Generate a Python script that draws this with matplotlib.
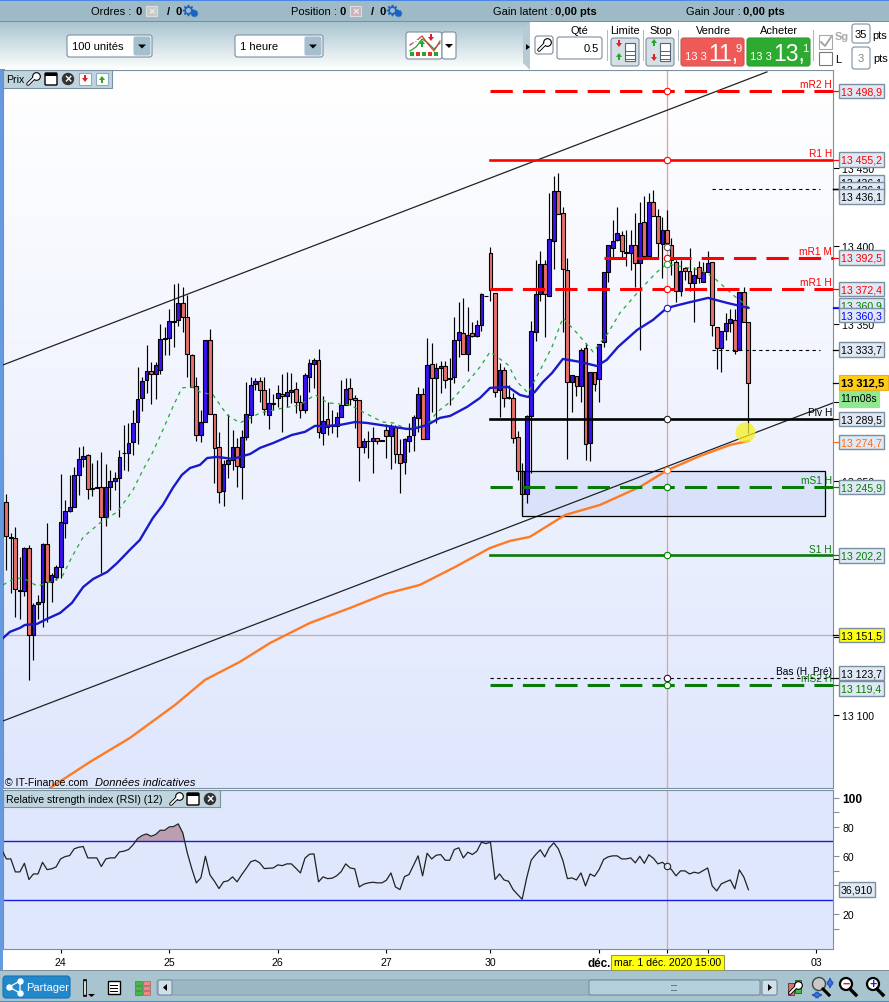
#!/usr/bin/env python3
# Hourly candles with moving averages, pivot levels and RSI, in a trading platform window
import numpy as np
import matplotlib
matplotlib.use("Agg")
import matplotlib.pyplot as plt
from matplotlib.patches import Rectangle, FancyBboxPatch, Circle, Polygon

plt.rcParams['font.family'] = ['Liberation Sans', 'DejaVu Sans']

# ---- candles, one value per hourly bar
body_top = [
13236.2,13214.0,13213.2,13180.4,13206.8,13206.8,13170.4,13172.3,13209.3,13209.3,
13189.5,13194.6,13223.4,13230.4,13233.0,13253.6,13263.7,13266.0,13266.2,13245.1,
13245.8,13245.8,13246.2,13250.0,13251.5,13265.4,13267.9,13274.3,13287.1,13302.1,
13314.0,13320.4,13320.4,13323.8,13340.4,13341.0,13352.3,13352.3,13363.4,13363.4,
13354.9,13330.2,13310.8,13287.4,13339.8,13339.8,13292.5,13271.4,13260.5,13263.3,
13271.8,13271.4,13277.6,13292.5,13311.0,13313.6,13313.6,13307.8,13299.5,13299.7,
13305.9,13305.3,13306.5,13307.8,13308.4,13300.6,13317.4,13325.1,13327.0,13327.0,
13288.4,13289.3,13285.7,13290.6,13298.2,13308.4,13309.1,13302.7,13301.4,13275.2,
13275.6,13277.1,13277.1,13275.8,13282.2,13285.2,13284.6,13266.9,13276.5,13278.4,
13290.6,13305.3,13305.3,13324.2,13324.8,13321.9,13323.6,13323.6,13315.5,13339.8,
13344.9,13344.2,13343.4,13344.2,13349.6,13369.1,13368.3,13395.4,13369.8,13320.6,
13320.6,13303.3,13302.7,13277.8,13256.3,13291.6,13345.5,13369.2,13388.3,13388.3,
13404.3,13435.4,13435.0,13420.9,13384.7,13317.4,13317.0,13333.4,13334.6,13319.3,
13319.3,13337.2,13383.2,13400.5,13403.0,13408.1,13406.9,13396.0,13400.9,13400.9,
13414.5,13415.2,13427.9,13427.9,13419.0,13410.0,13410.0,13400.5,13390.0,13384.3,
13385.8,13384.3,13381.7,13386.8,13383.6,13389.0,13389.6,13348.5,13345.9,13350.6,
13353.2,13352.5,13370.4,13370.4,13351.3]
body_bottom = [
13214.5,13213.6,13180.6,13179.3,13179.3,13151.2,13151.2,13171.0,13172.3,13185.1,
13185.1,13188.7,13195.1,13222.8,13230.4,13233.0,13253.4,13263.9,13244.5,13244.7,
13245.3,13227.0,13227.0,13246.2,13250.0,13251.5,13267.5,13267.9,13274.6,13287.4,
13302.7,13314.2,13318.2,13318.2,13320.6,13340.6,13341.4,13351.3,13352.7,13354.4,
13330.8,13310.1,13279.0,13279.0,13287.4,13292.5,13270.7,13242.6,13243.1,13260.5,
13263.3,13259.2,13259.0,13277.8,13291.8,13311.6,13307.8,13295.7,13291.8,13299.3,
13302.7,13303.8,13303.8,13306.7,13300.6,13295.0,13295.0,13316.1,13324.8,13281.0,
13280.3,13284.2,13285.0,13285.2,13291.0,13298.2,13302.1,13301.4,13271.4,13271.4,
13275.2,13275.2,13275.2,13275.4,13278.4,13278.8,13266.9,13261.2,13261.8,13275.6,
13279.0,13289.9,13276.5,13276.5,13315.5,13315.9,13321.9,13314.2,13315.0,13316.1,
13339.8,13330.8,13330.8,13342.3,13342.3,13349.3,13367.9,13371.7,13306.9,13308.0,
13303.1,13302.9,13277.1,13256.5,13241.4,13241.4,13291.6,13344.9,13369.2,13369.4,
13368.1,13403.4,13420.3,13385.1,13312.9,13312.9,13310.2,13310.2,13273.3,13274.4,
13311.6,13314.8,13338.5,13383.2,13399.0,13403.7,13396.6,13395.6,13395.4,13389.0,
13389.0,13393.6,13393.6,13419.4,13401.7,13401.3,13401.7,13391.1,13371.1,13371.1,
13384.3,13376.6,13376.6,13379.2,13377.2,13383.4,13349.3,13334.6,13334.6,13345.9,
13351.0,13332.7,13333.4,13351.3,13312.3]
wick_high = [
13241.3,13216.4,13220.2,13201.5,13207.9,13208.7,13172.1,13177.0,13210.0,13222.8,
13190.8,13196.1,13254.1,13237.7,13253.6,13259.0,13271.7,13272.2,13267.1,13261.5,
13263.2,13268.1,13260.5,13256.8,13255.8,13269.6,13285.6,13286.7,13295.2,13322.5,
13316.5,13336.8,13325.7,13326.1,13350.0,13348.5,13359.6,13375.8,13376.2,13373.6,
13368.7,13330.8,13316.5,13295.2,13339.8,13346.8,13292.5,13281.0,13263.3,13292.7,
13282.5,13277.1,13282.5,13312.9,13316.5,13315.5,13316.1,13316.1,13309.5,13305.5,
13311.2,13318.2,13319.3,13318.7,13313.3,13304.8,13318.7,13327.6,13328.3,13334.0,
13304.2,13300.6,13295.2,13294.2,13314.4,13315.5,13315.5,13304.8,13301.4,13277.1,
13281.8,13284.2,13277.1,13275.8,13286.3,13286.3,13285.6,13276.5,13277.1,13287.1,
13292.0,13309.7,13309.1,13341.0,13337.8,13325.1,13326.5,13326.5,13328.3,13354.9,
13364.0,13366.6,13361.3,13351.7,13352.7,13369.8,13368.3,13399.2,13369.8,13325.1,
13322.9,13311.2,13305.9,13281.8,13261.2,13292.0,13352.1,13391.1,13396.8,13391.1,
13434.1,13444.8,13446.5,13424.7,13392.2,13317.4,13317.0,13334.6,13338.3,13319.3,
13319.3,13337.2,13383.2,13400.5,13416.7,13424.7,13409.8,13410.3,13410.3,13421.3,
13427.9,13431.6,13434.1,13435.8,13423.5,13418.8,13423.0,13404.9,13391.1,13391.1,
13386.8,13398.5,13386.8,13390.7,13390.0,13396.8,13389.6,13348.5,13345.9,13357.0,
13359.6,13359.6,13370.4,13373.6,13351.3]
wick_low = [
13192.9,13178.5,13163.1,13161.4,13176.5,13122.6,13135.4,13161.4,13156.7,13159.9,
13172.3,13186.6,13187.6,13213.6,13230.2,13233.0,13240.9,13259.0,13238.3,13240.4,
13245.1,13190.8,13221.3,13231.3,13244.1,13227.0,13256.8,13256.2,13266.5,13273.5,
13294.6,13306.3,13299.1,13302.1,13318.2,13330.4,13330.4,13335.3,13349.1,13344.7,
13316.5,13309.7,13275.6,13275.0,13287.4,13292.5,13248.4,13235.6,13234.1,13251.6,
13256.9,13246.2,13238.4,13276.1,13287.1,13308.0,13300.6,13292.0,13283.3,13295.2,
13296.9,13281.4,13297.4,13299.9,13293.1,13289.9,13293.1,13306.9,13309.1,13277.1,
13272.9,13279.3,13280.3,13278.2,13291.0,13298.4,13298.4,13283.5,13250.1,13268.0,
13264.8,13255.2,13273.5,13275.4,13264.8,13257.3,13261.2,13242.4,13254.3,13268.6,
13269.0,13280.8,13276.5,13276.5,13294.2,13286.7,13306.3,13309.1,13298.4,13312.3,
13329.3,13330.8,13320.4,13342.1,13342.1,13345.9,13367.9,13365.1,13303.3,13291.0,
13296.9,13302.5,13274.4,13250.5,13228.1,13235.6,13254.8,13339.5,13365.1,13341.5,
13367.7,13385.1,13420.3,13345.3,13263.7,13294.2,13303.8,13300.6,13263.3,13262.9,
13307.6,13300.6,13335.7,13377.2,13392.8,13403.4,13393.2,13387.5,13384.7,13374.0,
13333.6,13393.6,13393.6,13419.4,13392.2,13379.4,13397.5,13381.5,13364.5,13367.7,
13378.3,13370.9,13351.7,13376.2,13377.2,13383.4,13342.7,13321.4,13319.7,13340.0,
13345.3,13330.8,13333.4,13351.3,13280.3]
direction = ("dddduduuud" "uuuuuuuudd" "dduuuuduuu" "uuduuduuud" "ddduuddduu"
             "uduuuuddud" "uduudduuud" "udduuudddu" "dudddudduu" "uududuuddu"
             "ududuudddu" "ddddduuuud" "uudddududu" "duuuuuddud" "ududdudddu"
             "dduduudduu" "ududd")

# ---- moving averages, read at some bars only
ma_blue_bars = [-0.7,0.8,3.0,4.1,6.8,9.0,11.9,14.5,17.0,19.2,22.3,24.5,27.3,29.5,32.4,34.6,36.8,38.8,40.6,42.8,
                44.4,46.6,50.1,53.9,56.1,59.0,63.1,66.0,68.2,70.9,73.7,77.1,79.7,84.1,88.5,89.9,93.0,95.8,98.1,101.8,
                104.7,106.9,110.9,113.5,115.3,116.8,118.6,120.6,123.0,126.8,130.5,132.7,135.2,139.4,142.9,146.0,150.4,155.1,159.3,164.0]
ma_blue = [13149.5,13153.4,13155.9,13157.8,13158.5,13161.7,13165.5,13171.9,13182.1,13187.2,13191.7,13197.4,13205.8,13212.1,13226.2,13234.5,13245.4,13253.7,13258.1,13260.1,
           13264.5,13265.2,13263.9,13267.1,13271.0,13274.1,13279.2,13281.2,13285.0,13285.0,13285.6,13287.5,13286.9,13285.0,13283.1,13283.1,13285.6,13290.1,13291.4,13297.1,
           13302.9,13309.3,13309.9,13304.8,13303.5,13306.7,13313.1,13318.8,13327.8,13325.9,13323.3,13327.2,13335.5,13346.3,13352.7,13360.4,13363.6,13366.8,13363.6,13360.4]
ma_green_bars = [-0.7,1.5,3.7,6.8,9.7,12.3,14.5,17.0,20.7,24.5,28.0,30.2,32.4,34.6,36.8,38.8,41.0,42.8,45.7,48.8,
                 51.6,53.9,56.1,59.0,64.9,68.2,71.1,76.0,78.8,83.2,85.5,88.5,93.0,95.2,98.1,101.8,104.7,106.9,110.9,112.9,
                 115.3,118.0,120.6,123.0,126.1,129.7,133.0,135.6,140.0,143.8,146.0,149.5,153.3,156.2,160.6,164.0]
ma_green = [13183.4,13187.2,13187.9,13182.7,13185.3,13188.5,13201.3,13214.0,13223.0,13230.0,13244.1,13256.9,13268.4,13282.4,13297.1,13309.3,13309.9,13306.7,13304.8,13292.0,
            13286.9,13290.1,13293.3,13295.2,13298.4,13304.8,13299.7,13298.4,13293.9,13287.5,13286.9,13283.1,13285.6,13293.9,13300.3,13312.5,13322.7,13332.3,13324.0,13313.1,
            13306.1,13320.8,13335.5,13354.0,13344.4,13332.3,13344.4,13357.2,13371.9,13383.4,13388.5,13386.6,13384.7,13380.2,13368.7,13361.0]
ma_orange_bars = [7.4,9.7,18.5,27.3,37.3,43.9,51.6,58.3,67.1,76.0,83.7,91.4,99.2,106.9,111.3,115.7,123.5,131.2,140.0,146.2,153.3,159.9,164.0]
ma_orange = [13048.6,13053.7,13070.3,13085.6,13106.7,13122.7,13134.2,13146.3,13159.1,13168.7,13177.6,13183.4,13194.9,13207.0,13211.5,13214.1,13228.1,13234.5,13246.0,13256.9,13265.8,13272.8,13275.4]

# ---- levels
pivot_names = ["mR2 H", "R1 H", "mR1 M", "mR1 H", "Piv H", "mS1 H", "S1 H", "mS2 H"]
pivot_values = [13498.9, 13455.2, 13392.5, 13372.4, 13289.5, 13245.9, 13202.2, 13119.4]
low_name = "Bas (H, Pré)"
low_value = 13123.7
alert_value = 13151.5
short_levels = [13436.1, 13333.7]
last_price = 13312.5
crosshair_bar = 146

# ---- labels on the price scale
side_prices = [13436.1, 13436.1, 13436.1, 13498.9, 13455.2, 13392.5, 13372.4, 13360.9, 13360.3,
               13333.7, 13289.5, 13274.7, 13245.9, 13202.2, 13151.5, 13123.7, 13119.4]
side_colors = ['k', 'k', 'k', 'red', 'red', 'red', 'red', 'green', 'blue',
               'k', 'k', '#ff6a10', 'green', 'green', 'k', 'k', 'green']

# ---- RSI, first value one bar before the first candle
rsi = [64.4,58.0,58.0,49.1,49.1,55.0,43.9,47.7,47.7,55.7,50.7,51.2,52.5,58.0,59.6,60.3,64.9,66.0,66.5,58.7,
       58.7,58.7,52.8,58.0,58.7,58.7,62.8,63.3,64.4,67.6,71.9,74.0,75.1,73.5,74.7,77.6,77.6,79.9,80.2,82.0,
       75.8,62.1,51.2,41.6,45.0,59.8,47.1,42.7,37.7,42.3,43.0,45.7,42.3,47.1,51.4,56.0,57.1,55.3,51.4,51.6,
       51.8,53.9,53.4,54.6,54.6,51.6,48.4,58.5,61.2,61.4,42.3,45.7,44.5,44.8,46.4,49.3,54.6,51.8,51.2,38.8,
       40.7,41.6,42.0,41.6,41.6,43.4,48.4,38.8,37.0,45.9,47.3,53.7,60.1,46.4,61.9,58.0,60.5,61.0,
       57.1,57.1,64.4,65.6,58.7,62.6,61.0,63.3,69.4,68.5,69.4,43.9,47.7,43.6,42.7,37.0,33.6,30.4,45.0,57.1,
       61.0,64.2,59.4,65.6,69.0,64.9,56.9,44.5,45.0,43.6,48.4,39.5,47.7,46.1,50.7,57.6,59.4,60.1,60.1,58.0,
       58.0,58.7,55.3,59.8,55.0,60.8,58.5,54.6,55.7,53.0,50.7,46.4,49.8,49.8,47.7,48.9,48.2,50.0,51.8,39.5,
       36.1,40.9,42.3,43.6,37.5,50.5,45.5,36.91]
rsi_ticks = [100, 80, 60, 40, 20]

# ---- time axis
day_ticks = [12, 36, 60, 84, 107, 131, 155, 179]
day_labels = ["24", "25", "26", "27", "30", "déc.", "", "03"]

# ---- geometry of the window, in pixels of the screenshot
W, H = 889, 1003
BAR0, BAR_W = 6.3, 4.525
P_LEFT, P_RIGHT = 3, 833
M_TOP, M_BOT = 71, 789
R_TOP, R_BOT = 791, 950
def bar_of(px):
    return (px - BAR0) / BAR_W
price_top, price_bot = 13557.8 - 0.639 * M_TOP, 13557.8 - 0.639 * M_BOT
rsi_low, rsi_high = -3.7, 105.2
def price_y(p):
    return M_TOP + (price_top - p) / (price_top - price_bot) * (M_BOT - M_TOP)

fig = plt.figure(figsize=(W / 100, H / 100), dpi=100, facecolor='white')
def panel(top, bot):
    return fig.add_axes([P_LEFT / W, 1 - bot / H, (P_RIGHT - P_LEFT) / W, (bot - top) / H])

BORDER = '#7a8fa0'
ax = panel(M_TOP, M_BOT)
ax.set_xlim(bar_of(P_LEFT), bar_of(P_RIGHT))
ax.set_ylim(price_bot, price_top)
grad = np.linspace(0, 1, 256).reshape(-1, 1, 1)
top_c, bot_c = np.array([1, 1, 1]), np.array([0.875, 0.906, 0.992])
ax.imshow(top_c + grad * (bot_c - top_c), extent=(0, 1, 0, 1), transform=ax.transAxes, aspect='auto', zorder=0)
ax.set_xlim(bar_of(P_LEFT), bar_of(P_RIGHT))
ax.set_ylim(price_bot, price_top)
for s in ax.spines.values():
    s.set_color(BORDER)

bars = np.arange(len(body_top))
up = np.array([d == 'u' for d in direction])
top = np.array(body_top)
bottom = np.array(body_bottom)
ax.vlines(bars, wick_low, wick_high, color='k', lw=0.85, zorder=2)
ax.bar(bars[up], (top - bottom)[up], bottom=bottom[up], width=0.84, color='#3a10f0', edgecolor='k', linewidth=0.8, zorder=3)
ax.bar(bars[~up], (top - bottom)[~up], bottom=bottom[~up], width=0.84, color='#e8706a', edgecolor='k', linewidth=0.8, zorder=3)

# trend channel and box
ax.plot([-0.7, 168.1], [13324.0, 13511.2], color='#222222', lw=0.9, zorder=4)
ax.plot([-0.7, 182.7], [13096.5, 13299.7], color='#222222', lw=0.9, zorder=4)
ax.add_patch(Rectangle((114.0, 13227.5), 67.0, 28.7, fc='#b9c8f5', alpha=0.35, ec='none', zorder=1))
ax.add_patch(Rectangle((114.0, 13227.5), 67.0, 28.7, fc='none', ec='k', lw=0.9, zorder=4))

ax.plot(ma_green_bars, ma_green, color='#22aa33', lw=0.9, ls=(0, (3, 3.5)), zorder=5)
ax.plot(ma_blue_bars, ma_blue, color='#1a1ac8', lw=1.7, zorder=5)
ax.plot(ma_orange_bars, ma_orange, color='#ff7a22', lw=1.7, zorder=5)

# pivot levels
ax_end = bar_of(P_RIGHT)
level_start = bar_of(490)
dash = (0, (7.3, 3.3))
level_colors = ['red', 'red', 'red', 'red', 'k', '#0a7a0a', '#0a7a0a', '#0a7a0a']
level_dashed = [True, False, True, True, False, True, False, True]
for name, val, col, dashed in zip(pivot_names, pivot_values, level_colors, level_dashed):
    x0 = bar_of(604) if name == "mR1 M" else level_start
    ax.plot([x0, ax_end], [val, val], color=col, lw=2.2 if dashed else 1.9, ls=dash if dashed else '-', zorder=6)
    ax.text(ax_end - 0.2, val + 1.2, name, color=col, fontsize=7.3, ha='right', va='bottom', zorder=7)
ax.plot([level_start, ax_end], [low_value, low_value], color='k', lw=0.8, ls=(0, (3, 3)), zorder=6)
ax.text(ax_end - 0.2, low_value + 1.8, low_name, color='k', fontsize=7.3, ha='right', va='bottom', zorder=7)
for val in short_levels:
    ax.plot([bar_of(712), bar_of(820)], [val, val], color='k', lw=0.8, ls=(0, (3, 3)), zorder=4)
ax.axhline(alert_value, color='#c8a8b0', lw=0.9, zorder=1.5)
ax.axvline(crosshair_bar, color='#f09a9a', lw=0.9, zorder=1.5)

# crosshair circles
circles = [(13498.9, 'red'), (13455.2, 'red'), (13392.5, 'red'), (13372.4, 'red'), (13289.5, '#222222'),
           (13245.9, 'green'), (13202.2, 'green'), (13119.4, 'green'), (13123.7, '#222222'),
           (13399.6, '#555555'), (ma_blue[ma_blue_bars.index(146.0)], '#1a1ac8'),
           (ma_green[ma_green_bars.index(146.0)], '#22aa33'), (13256.9, '#ff7a22')]
for val, col in circles:
    ax.plot([crosshair_bar], [val], 'o', mfc='white', mec=col, ms=4.6, mew=0.8, zorder=8)

ax.scatter([163.2], [13281.3], s=207, color='#f7f020', alpha=0.75, linewidths=0, zorder=6)

# 13 150, 13 200 and 13 300 sit fully behind the boxes of the scale
price_ticks = list(range(13100, 13500, 50))
hidden_ticks = [13150, 13200, 13300]
ax.yaxis.tick_right()
ax.set_yticks(price_ticks)
ax.set_yticklabels(["" if v in hidden_ticks else f"13 {v - 13000:03d}" for v in price_ticks], fontsize=7.6)
ax.tick_params(axis='y', length=4, width=0.8, color='k', pad=2.5)
ax.set_xticks([])
ax.text(0.0025, 0.0045, "© IT-Finance.com", transform=ax.transAxes, fontsize=7.6, zorder=9)
ax.text(0.111, 0.0045, "Données indicatives", transform=ax.transAxes, fontsize=8, style='italic', zorder=9)

# RSI panel
ar = panel(R_TOP, R_BOT)
ar.set_facecolor('#dfe7fd')
ar.set_xlim(ax.get_xlim())
ar.set_ylim(rsi_low, rsi_high)
for s in ar.spines.values():
    s.set_color(BORDER)
rsi_x = np.arange(len(rsi)) - 1
rsi_y = np.array(rsi)
ar.fill_between(rsi_x, 70, rsi_y, where=rsi_y > 70, interpolate=True, color='#bb9fb0', lw=0, zorder=2)
ar.plot(rsi_x, rsi_y, color='#222222', lw=0.9, zorder=3)
ar.axhline(70, color='#1a1ae6', lw=1.0, zorder=2)
ar.axhline(30, color='#1a1ae6', lw=1.0, zorder=2)
ar.axvline(crosshair_bar, color='#f09a9a', lw=0.9, zorder=1.5)
ar.plot([crosshair_bar], [rsi_y[crosshair_bar + 1]], 'o', mfc='#dfe7fd', mec='#222222', ms=4.6, mew=0.8, zorder=8)
ar.yaxis.tick_right()
ar.set_yticks(rsi_ticks)
ar.set_yticklabels([str(v) for v in rsi_ticks], fontsize=7.6)
ar.get_yticklabels()[0].set_fontweight('bold')
ar.get_yticklabels()[0].set_fontsize(8.6)
ar.set_yticks([90, 50, 10], minor=True)
ar.tick_params(axis='y', which='both', length=4, width=0.8, color=BORDER, pad=2.5)
ar.set_xticks(day_ticks + [crosshair_bar])
ar.set_xticklabels(day_labels + [""], fontsize=7.6)
ar.get_xticklabels()[5].set_fontweight('bold')
ar.get_xticklabels()[5].set_fontsize(8.4)
ar.tick_params(axis='x', length=3, width=0.8, color='k', pad=3)

# ---- window around the chart, drawn in screenshot pixels
ch = fig.add_axes([0, 0, 1, 1], zorder=10)
ch.set_xlim(0, W)
ch.set_ylim(H, 0)
ch.axis('off')
ch.patch.set_alpha(0)

def rect(x0, y0, x1, y1, fc='none', ec='none', lw=0.8, z=1):
    ch.add_patch(Rectangle((x0, y0), x1 - x0, y1 - y0, fc=fc, ec=ec, lw=lw, zorder=z))
def rbox(x0, y0, x1, y1, fc='white', ec=BORDER, lw=0.8, z=2, r=2.5):
    ch.add_patch(FancyBboxPatch((x0 + r, y0 + r), x1 - x0 - 2 * r, y1 - y0 - 2 * r,
                                boxstyle=f"round,pad={r},rounding_size={r}", fc=fc, ec=ec, lw=lw, zorder=z))
def txt(x, y, s, size=7.9, ha='left', color='k', weight='normal', z=5, style='normal'):
    ch.text(x, y, s, fontsize=size, ha=ha, va='center', color=color, fontweight=weight, zorder=z, style=style)
def vgrad(x0, x1, y0, y1, c0, c1, z=1):
    g = np.linspace(0, 1, 64).reshape(-1, 1, 1)
    ch.imshow(np.array(c0) + g * (np.array(c1) - np.array(c0)), extent=(x0, x1, y1, y0), aspect='auto', zorder=z)
    ch.set_xlim(0, W)
    ch.set_ylim(H, 0)
def gear(x, y):
    ch.plot([x], [y], marker=(8, 1, 0), ms=8, color='#1a62c4', zorder=5)
    ch.plot([x], [y], 'o', ms=2.6, color='#9dbac6', zorder=6)
    ch.plot([x + 6], [y + 3], marker=(8, 1, 0), ms=5, color='#1a62c4', zorder=5)
def wrench(x, y):
    ch.plot([x - 5, x + 1], [y + 5, y - 1], color='k', lw=2.6, zorder=4, solid_capstyle='round')
    ch.plot([x - 5, x + 1], [y + 5, y - 1], color='white', lw=1.3, zorder=5, solid_capstyle='round')
    ch.plot([x + 3], [y - 3], 'o', ms=5.5, mfc='white', mec='k', mew=0.8, zorder=4)
def window(x, y):
    rbox(x - 6, y - 6, x + 6, y + 6, fc='white', ec='k', lw=1, z=4, r=1)
    rect(x - 6, y - 6, x + 6, y - 3, fc='k', z=5)
def closer(x, y):
    ch.add_patch(Circle((x, y), 6.2, fc='#333333', ec='none', zorder=4))
    ch.text(x, y, "×", fontsize=9, fontweight='bold', ha='center', va='center', color='white', zorder=5)
def arrow(x, y, col, down=True):
    s = 1 if down else -1
    ch.add_patch(Polygon([(x - 3, y), (x + 3, y), (x, y + 4 * s)], fc=col, ec='none', zorder=6))
    rect(x - 1.2, y - 3 * s if down else y, x + 1.2, y if down else y + 3, fc=col, z=6)
def combo(x0, x1, y0, y1, s):
    rbox(x0, y0, x1, y1)
    txt(x0 + 5, (y0 + y1) / 2, s, size=8)
    rbox(x1 - 18, y0 + 2, x1 - 2, y1 - 2, fc='#a4c0cf', ec='#a4c0cf', r=1.5, z=3)
    ch.add_patch(Polygon([(x1 - 14, y0 + 9.5), (x1 - 6, y0 + 9.5), (x1 - 10, y0 + 13.5)], fc='k', zorder=4))

# left strip and status bar
rect(0, 0, 2.6, H, fc='#6699e0', z=0.5)
rect(0, 0, W, 1.5, fc='#4a86e8', z=2)
rect(0, 1.5, W, 22, fc='#9dbac6', z=1)
rect(0, 22, W, 23, fc='#74909f', z=2)
for sx, lab, lw_x in [(91, "Ordres :", 136), (291, "Position :", 340)]:
    txt(sx, 12, lab, size=8)
    txt(lw_x, 12, "0", weight='bold', size=8)
    rect(lw_x + 10, 7, lw_x + 21, 17, fc='#c9c9c9' if sx == 91 else '#c9b4ba', ec='#dddddd', z=3)
    ch.text(lw_x + 15.5, 12, "×", fontsize=8, fontweight='bold', ha='center', va='center', color='#eeeeee', zorder=4)
    txt(lw_x + 31, 12, "/", size=8, weight='bold')
    txt(lw_x + 39, 12, "0", weight='bold', size=8)
    gear(lw_x + 52, 10.5)
txt(493, 12, "Gain latent :", size=8)
txt(555, 12, "0,00 pts", size=8, weight='bold')
txt(686, 12, "Gain Jour :", size=8)
txt(743, 12, "0,00 pts", size=8, weight='bold')

# toolbar
vgrad(0, W, 23, 71, [0.66, 0.77, 0.81], [1, 1, 1])
rect(0, 70.3, P_LEFT + 2, 71.3, fc=BORDER, z=2)
rect(530, 23, W, 71, fc='white', z=2)
ch.add_patch(Polygon([(523, 30), (530, 23), (530, 71), (523, 64)], fc='#b6cbd5', ec='none', zorder=2))
ch.add_patch(Polygon([(526, 45), (526, 51), (530, 48)], fc='k', zorder=3))
combo(67, 152, 36, 58, "100 unités")
combo(235, 323, 36, 58, "1 heure")
rbox(406, 33, 442, 60, fc='white', ec=BORDER)
rbox(442, 33, 456, 60, fc='white', ec=BORDER)
ch.add_patch(Polygon([(445, 45), (453, 45), (449, 49)], fc='k', zorder=4))
indicator_x = [410, 416, 422, 428, 434, 440]
ch.plot(indicator_x, [52, 48, 40, 44, 50, 44], color='#2ca02c', lw=0.9, zorder=4)
ch.plot(indicator_x, [46, 42, 37, 45, 52, 42], color='#d04040', lw=0.9, zorder=4)
for i, bx in enumerate(range(410, 440, 6)):
    rect(bx, 53, bx + 4, 57, fc='#22aa22' if i % 2 == 0 else '#dd3333', z=4)
ch.text(414, 41, "+", fontsize=11, fontweight='bold', ha='center', va='center', color='white', zorder=6)
arrow(422, 45, '#22aa22', down=False)
arrow(431, 38, '#dd2222')

rbox(535, 37, 553, 55, fc='white', ec=BORDER)
wrench(544, 46)
txt(579, 31, "Qté", size=7.9, ha='center')
rbox(557, 38, 602, 60)
txt(599, 49, "0.5", size=8, ha='right')
for sx in [607, 643, 678, 813]:
    rect(sx, 31, sx + 0.8, 62, fc='#a8bcc6', z=3)
txt(625, 31, "Limite", size=7.9, ha='center')
txt(661, 31, "Stop", size=7.9, ha='center')
for x0, dn in [(611, True), (646, False)]:
    rbox(x0, 39, x0 + 28, 67, fc='#d5e0e6', ec=BORDER)
    arrow(x0 + 8, 44, '#dd2222' if dn else '#22aa22', down=dn)
    arrow(x0 + 8, 58, '#22aa22' if dn else '#dd2222', down=not dn)
    rect(x0 + 14, 44, x0 + 24, 62, fc='white', ec='#556677', z=4)
    for ly in (52, 56, 60):
        rect(x0 + 14, ly, x0 + 24, ly + 0.8, fc='#556677', z=5)
txt(713, 31, "Vendre", size=7.9, ha='center')
txt(779, 31, "Acheter", size=7.9, ha='center')
rbox(681, 39, 744, 67, fc='#ee5a58', ec='#cc5555')
rbox(747, 39, 810, 67, fc='#2cab30', ec='#2b9a33')
txt(685, 57, "13 3", size=8, color='white')
txt(708, 54, "11,", size=16.5, color='white')
txt(736, 49, "9", size=8, color='white')
txt(750, 57, "13 3", size=8, color='white')
txt(773, 54, "13,", size=16.5, color='white')
txt(802, 49, "1", size=8, color='white')
rect(819, 36, 832, 50, fc='white', ec='#a8a8a8', z=3)
ch.plot([821, 825, 831], [43, 47, 38], color='#a0a0a0', lw=1.3, zorder=4)
txt(835, 37, "Sg", size=7.9, color='#aaaaaa', weight='bold')
txt(835, 60, "L", size=7.9)
rect(819, 53, 832, 66, fc='white', ec='#777777', z=3)
rbox(852, 25, 870, 44)
rbox(852, 48, 870, 70)
txt(861, 35, "35", size=8, ha='center')
txt(861, 59, "3", size=8, ha='center', color='#888888')
txt(872, 36, "pts", size=7.9)
txt(873, 59, "pts", size=7.9)

# chart tags
rect(P_LEFT, M_TOP, 112, 89, fc='#c0d4de', ec=BORDER, z=4)
txt(6, 80, "Prix", size=7.6)
wrench(33, 80)
window(51, 80)
closer(68, 80)
for bx, col, dn in [(85, '#dd2222', True), (102, '#22aa22', False)]:
    rect(bx - 6, 74, bx + 6, 86, fc='white', ec='#8faabb', z=5)
    arrow(bx, 79 if dn else 81, col, down=dn)
rect(P_LEFT, R_TOP, 220, 808, fc='#c0d4de', ec=BORDER, z=4)
txt(6, 800, "Relative strength index (RSI) (12)", size=7.6)
wrench(176, 800)
window(193, 800)
closer(210, 800)

# price scale labels, later ones lie over earlier ones
side_shift = [-7.5, 0, 7, 0, 0, 0, 0, -2, 7, 0, 0, 0, 0, 0, 0, -5.4, 3.5]
for val, col, dy in zip(side_prices, side_colors, side_shift):
    yy = price_y(val)
    ch.plot([P_RIGHT, 838], [yy, yy], color=col, lw=0.9, zorder=3)
    face = '#ffff10' if val == alert_value else '#dfe8f4'
    rect(838.5, yy + dy - 7.3, 884, yy + dy + 7.3, fc=face, ec=BORDER, lw=1, z=6)
    s = f"{val:,.1f}".replace(",", " ").replace(".", ",")
    txt(861.5, yy + dy + 0.2, s, size=7.6, ha='center', color=col, z=6)
yy = price_y(last_price)
ch.plot([P_RIGHT, 838], [yy, yy], color='k', lw=0.9, zorder=3)
rect(838.5, yy - 7.5, 888, yy + 7.5, fc='#ffcc14', ec='#e8b020', z=7)
txt(863, yy, f"{last_price:,.1f}".replace(",", " ").replace(".", ","), size=8, ha='center', weight='bold', z=8)
rect(838.5, yy + 8, 879, yy + 24, fc='#90e890', ec='#90e890', z=7)
txt(859, yy + 15.5, "11m08s", size=7.6, ha='center', z=8)

# RSI value and date tooltip
rsi_px = R_BOT - (rsi[-1] - rsi_low) / (rsi_high - rsi_low) * (R_BOT - R_TOP)
rect(839, rsi_px - 7.5, 875, rsi_px + 7.5, fc='#dfe8f4', ec=BORDER, lw=1, z=6)
txt(857, rsi_px, f"{rsi[-1]:.3f}".replace(".", ","), size=7.6, ha='center', z=7)
rect(611, 956, 724, 971, fc='#ffff10', ec='#9a9a50', z=6)
txt(667.5, 963.5, "mar. 1 déc. 2020 15:00", size=7.6, ha='center', z=7)

# bottom bar
rect(0, 971, W, 1003, fc='#a7c4cf', z=1)
rect(0, 971, W, 972, fc=BORDER, z=2)
rect(0, 1001.5, W, 1003, fc='#4a86e8', z=2)
rbox(3, 977, 70, 999, fc='#2288cc', ec='#1a70b0', r=3)
txt(26, 988, "Partager", size=8, color='white')
ch.plot([9, 20, 20, 9], [988, 982, 994, 988], color='white', lw=0.9, zorder=4)
ch.plot([9, 20, 20], [988, 982, 994], 'o', color='white', ms=3.6, zorder=4)
ch.plot([85, 85], [982, 996], color='k', lw=2.6, zorder=4)
ch.plot([85, 85], [983, 995], color='white', lw=1.2, zorder=5)
ch.add_patch(Polygon([(88, 995), (95, 995), (91.5, 998)], fc='k', zorder=4))
rect(108, 982, 120, 995, fc='white', ec='k', lw=1, z=4)
for ly in (986, 989, 992):
    rect(110, ly, 118, ly + 1, fc='k', z=5)
for i, ly in enumerate((982, 987, 992)):
    rect(135, ly, 142, ly + 3.5, fc='#44bb44', ec='#2b7a2b', lw=0.4, z=4)
    rect(143, ly, 150, ly + 3.5, fc='#ee8880', ec='#a05550', lw=0.4, z=4)
rbox(157, 981, 777, 996, fc='#9bb7c4', ec='#8aa3ae', r=2)
rbox(158, 981, 172, 996, fc='#cfe0e8', ec=BORDER, r=2, z=3)
ch.add_patch(Polygon([(167, 985), (167, 992), (163, 988.5)], fc='k', zorder=4))
rbox(589, 981, 760, 996, fc='#b4d0dc', ec=BORDER, r=2, z=3)
for ly in (986, 988.5, 991):
    rect(671, ly, 677, ly + 0.6, fc='#667788', z=4)
rbox(762, 981, 777, 996, fc='#cfe0e8', ec=BORDER, r=2, z=3)
ch.add_patch(Polygon([(768, 985), (768, 992), (772, 988.5)], fc='k', zorder=4))
rect(788, 984, 794, 996, fc='#e07070', ec='#553333', lw=0.6, z=4)
rect(795, 981, 801, 994, fc='#44bb44', ec='#225522', lw=0.6, z=4)
wrench(795, 989)
ch.add_patch(Circle((819, 985), 6.5, fc='#c8c8c8', ec='#444444', lw=1, zorder=4))
ch.plot([823, 829], [990, 996], color='k', lw=2.2, zorder=4)
ch.annotate("", xy=(830, 978), xytext=(830, 990), arrowprops=dict(arrowstyle='<->', color='#2255cc', lw=1, shrinkA=0, shrinkB=0), zorder=5)
ch.annotate("", xy=(811, 996), xytext=(823, 996), arrowprops=dict(arrowstyle='<->', color='#2255cc', lw=1, shrinkA=0, shrinkB=0), zorder=5)
for zx, sign, col in [(846, "−", '#cc2222'), (873, "+", '#2222cc')]:
    ch.add_patch(Circle((zx, 985), 6, fc='white', ec='k', lw=1.6, zorder=4))
    ch.plot([zx + 4, zx + 10], [990, 996], color='k', lw=2.4, zorder=4)
    ch.text(zx, 985, sign, fontsize=9, fontweight='bold', ha='center', va='center', color=col, zorder=5)

fig.savefig("out.png", dpi=100)
